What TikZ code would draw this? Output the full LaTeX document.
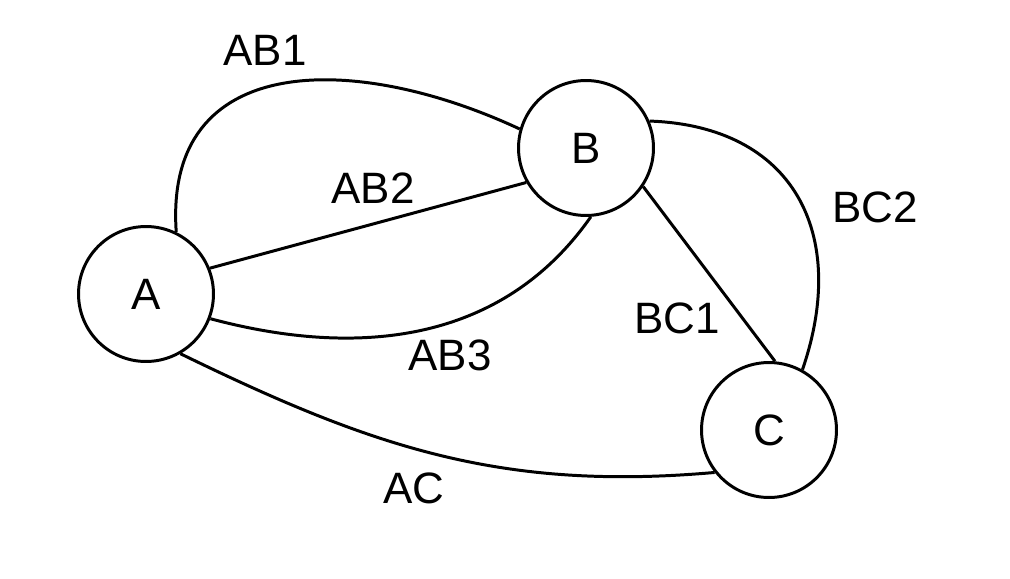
\documentclass[tikz,border=0pt]{standalone}
\usepackage{fontspec}
\setmainfont{Liberation Sans}
\begin{document}
\begin{tikzpicture}[x=0.02cm,y=-0.02cm,
  vertex/.style={circle,draw,line width=1.7pt,minimum size=2.7cm,inner sep=0pt,font=\fontsize{25}{30}\selectfont},
  edge/.style={line width=1.7pt},
  elabel/.style={font=\fontsize{25}{30}\selectfont,inner sep=0pt}]
\useasboundingbox (0,0) rectangle (1010,578);
\node[vertex] (A) at (146,294) {A};
\node[vertex] (B) at (586,148) {B};
\node[vertex] (C) at (769,430) {C};
\draw[edge] (A.64) to[out=94,in=155,looseness=1.3] (B.164);
\draw[edge] (A.22) -- (B.210);
\draw[edge] (A.-21) to[out=-15,in=235,looseness=1] (B.-86);
\draw[edge] (A.-60) to[out=-26,in=185,looseness=1] (C.218);
\draw[edge] (B.-34) -- (C.85);
\draw[edge] (B.23) to[out=-2,in=71,looseness=1.26] (C.61);
\node[elabel] (lab1) at (265,50) {AB1};
\node[elabel] (lab2) at (373,188) {AB2};
\node[elabel] (lab3) at (450,355) {AB3};
\node[elabel] (lac) at (414,488) {AC};
\node[elabel] (lbc1) at (677,318) {BC1};
\node[elabel] (lbc2) at (875,207) {BC2};
\end{tikzpicture}
\end{document}
